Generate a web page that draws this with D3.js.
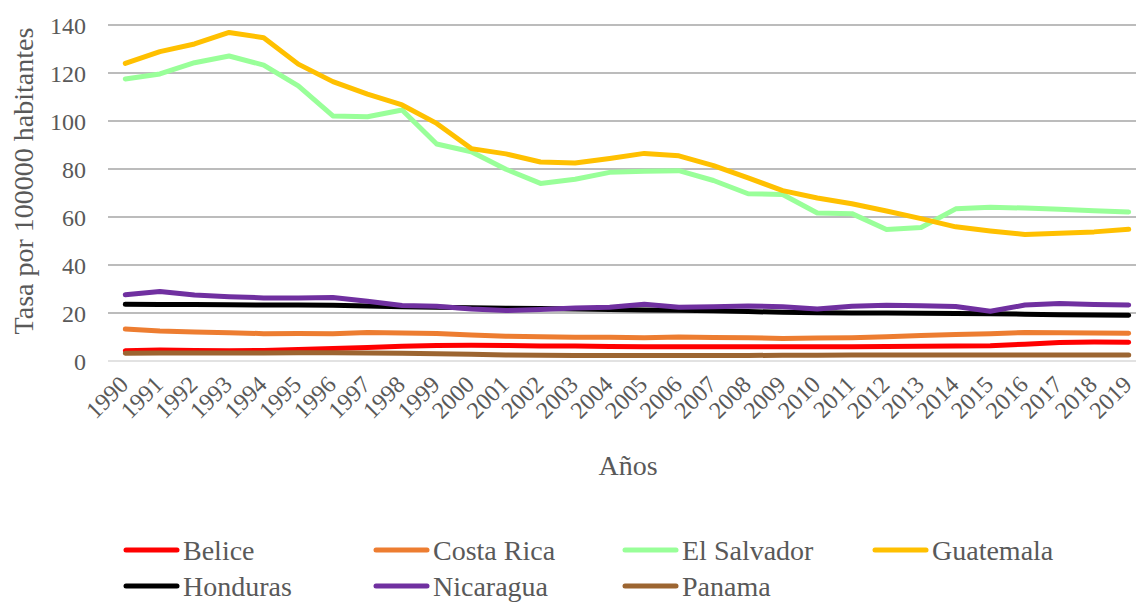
<!DOCTYPE html>
<html>
<head>
<meta charset="utf-8">
<script src="https://cdn.jsdelivr.net/npm/d3@7"></script>
<style>
  html, body { margin: 0; padding: 0; background: #fff; }
  svg { display: block; }
  svg text { font-family: "Times New Roman", "Liberation Serif", Tinos, "DejaVu Serif", serif; fill: #595959; }
</style>
</head>
<body>
<svg id="chart" width="1136" height="604"></svg>
<script>
// Homicide rate per 100,000 inhabitants, Central America, 1990–2019
const years = ["1990","1991","1992","1993","1994","1995","1996","1997","1998","1999",
               "2000","2001","2002","2003","2004","2005","2006","2007","2008","2009",
               "2010","2011","2012","2013","2014","2015","2016","2017","2018","2019"];

const belice     = [4.3, 4.6, 4.4, 4.3, 4.4, 4.8, 5.2, 5.6, 6.1, 6.5, 6.6, 6.5, 6.3, 6.2, 6.0, 5.9, 5.9, 5.9, 5.9, 5.9, 5.9, 5.9, 6.0, 6.1, 6.2, 6.4, 7.0, 7.7, 7.9, 7.8];
const costaRica  = [13.3, 12.5, 12.1, 11.8, 11.4, 11.5, 11.4, 11.9, 11.7, 11.5, 10.8, 10.3, 10.1, 9.9, 9.9, 9.7, 10.0, 9.8, 9.7, 9.4, 9.6, 9.7, 10.1, 10.6, 11.0, 11.4, 11.9, 11.8, 11.7, 11.6];
const elSalvador = [117.5, 119.6, 124.3, 127.1, 123.3, 114.6, 102.1, 101.8, 104.6, 90.4, 87.2, 79.9, 74.0, 75.7, 78.6, 79.1, 79.3, 75.2, 69.7, 69.4, 61.7, 61.4, 54.8, 55.6, 63.4, 64.1, 63.7, 63.2, 62.6, 62.1];
const guatemala  = [124.0, 128.9, 132.1, 136.9, 134.7, 123.7, 116.4, 111.2, 106.7, 99.0, 88.5, 86.3, 82.9, 82.5, 84.4, 86.5, 85.5, 81.4, 76.3, 71.0, 67.9, 65.5, 62.5, 59.3, 55.9, 54.2, 52.7, 53.2, 53.8, 54.9];
const honduras   = [23.6, 23.5, 23.5, 23.4, 23.3, 23.3, 23.2, 22.9, 22.6, 22.4, 22.2, 22.0, 21.9, 21.7, 21.5, 21.3, 21.1, 20.9, 20.6, 20.3, 20.1, 20.0, 20.0, 19.9, 19.8, 19.7, 19.5, 19.3, 19.2, 19.1];
const nicaragua  = [27.6, 29.0, 27.5, 26.8, 26.3, 26.3, 26.5, 24.9, 23.1, 22.8, 21.7, 21.0, 21.5, 22.1, 22.4, 23.6, 22.4, 22.6, 22.9, 22.6, 21.7, 22.8, 23.2, 23.0, 22.7, 20.7, 23.3, 24.0, 23.5, 23.3];
const panama     = [3.2, 3.3, 3.3, 3.3, 3.3, 3.4, 3.4, 3.3, 3.2, 3.0, 2.8, 2.5, 2.4, 2.3, 2.3, 2.3, 2.3, 2.3, 2.3, 2.4, 2.4, 2.5, 2.5, 2.5, 2.5, 2.5, 2.5, 2.5, 2.5, 2.5];

const seriesNames  = ["Belice", "Costa Rica", "El Salvador", "Guatemala", "Honduras", "Nicaragua", "Panama"];
const seriesValues = [belice, costaRica, elSalvador, guatemala, honduras, nicaragua, panama];
const seriesColors = ["#ff0000", "#ed7d31", "#99ff99", "#ffc000", "#000000", "#7030a0", "#9c6531"];

const yTicks = [0, 20, 40, 60, 80, 100, 120, 140];

const FONT = "'Times New Roman', 'Liberation Serif', Tinos, 'DejaVu Serif', serif";

const svg = d3.select("#chart");

const plotLeft = 108, plotRight = 1146, plotTop = 25, plotBottom = 361;

const x = d3.scalePoint().domain(years).range([plotLeft, plotRight]).padding(0.5);
const y = d3.scaleLinear().domain([0, 140]).range([plotBottom, plotTop]);

// horizontal gridlines
svg.append("g")
  .selectAll("line")
  .data(yTicks.filter(t => t > 0))
  .join("line")
  .attr("x1", plotLeft).attr("x2", plotRight)
  .attr("y1", d => y(d)).attr("y2", d => y(d))
  .attr("stroke", "#a6a6a6").attr("stroke-width", 1.5);

// category axis baseline
svg.append("line")
  .attr("x1", plotLeft).attr("x2", plotRight)
  .attr("y1", y(0)).attr("y2", y(0))
  .attr("stroke", "#d9d9d9").attr("stroke-width", 1.5);

// y axis labels
const yAxis = d3.axisLeft(y).tickValues(yTicks).tickSize(0).tickPadding(0);
const gy = svg.append("g").attr("transform", "translate(86,0)").call(yAxis)
  .attr("font-family", FONT);
gy.select(".domain").remove();
gy.selectAll("text")
  .attr("font-size", 24)
  .attr("fill", "#595959")
  .attr("dy", "0.34em");

// x axis labels, rotated
const xAxis = d3.axisBottom(x).tickSize(0).tickPadding(0);
const gx = svg.append("g").attr("transform", `translate(0,${plotBottom})`).call(xAxis)
  .attr("font-family", FONT);
gx.select(".domain").remove();
gx.selectAll("text")
  .attr("font-size", 24)
  .attr("fill", "#595959")
  .attr("text-anchor", "end")
  .attr("dy", null)
  .attr("y", 0)
  .attr("transform", "translate(4,25) rotate(-45)");

// axis titles
svg.append("text")
  .attr("transform", "translate(33,181) rotate(-90)")
  .attr("text-anchor", "middle")
  .attr("font-size", 28)
  .text("Tasa por 100000 habitantes");

svg.append("text")
  .attr("x", 628).attr("y", 475)
  .attr("text-anchor", "middle")
  .attr("font-size", 28)
  .text("Años");

// series lines
const line = d3.line()
  .x((d, i) => x(years[i]))
  .y(d => y(d));

svg.append("g")
  .selectAll("path")
  .data(seriesValues)
  .join("path")
  .attr("d", line)
  .attr("fill", "none")
  .attr("stroke", (d, i) => seriesColors[i])
  .attr("stroke-width", 5)
  .attr("stroke-linecap", "round")
  .attr("stroke-linejoin", "round");

// legend
const legendCols = [124, 374, 623, 873];
const legendRows = [550, 586];
const legend = svg.append("g")
  .selectAll("g")
  .data(seriesNames)
  .join("g")
  .attr("transform", (d, i) => `translate(${legendCols[i % 4]},${legendRows[Math.floor(i / 4)]})`);

legend.append("line")
  .attr("x1", 2).attr("x2", 53)
  .attr("y1", 0).attr("y2", 0)
  .attr("stroke", (d, i) => seriesColors[i])
  .attr("stroke-width", 5)
  .attr("stroke-linecap", "round");

legend.append("text")
  .attr("x", 59).attr("y", 0)
  .attr("dy", "0.34em")
  .attr("font-size", 28)
  .text(d => d);
</script>
</body>
</html>
